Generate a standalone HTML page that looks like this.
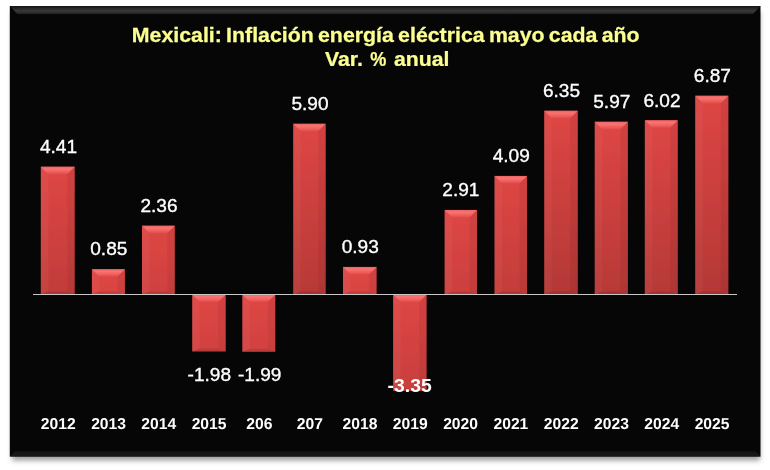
<!DOCTYPE html>
<html><head><meta charset="utf-8"><title>Mexicali: Inflación energía eléctrica</title>
<style>
html,body{margin:0;padding:0;background:#fff;}
body{width:770px;height:470px;overflow:hidden;position:relative;}
svg{position:absolute;left:0;top:0;display:block;}
text{font-family:"Liberation Sans",Arial,sans-serif;}
.t{font-weight:bold;font-size:19.3px;fill:#fcff90;text-anchor:middle;stroke:#fcff90;stroke-width:0.25px;}
.v{font-size:19px;fill:#fff;text-anchor:middle;stroke:#fff;stroke-width:0.35px;}
.vb{font-size:19px;fill:#fff;text-anchor:middle;font-weight:bold;}
.y{text-rendering:geometricPrecision;font-size:15.8px;fill:#fff;text-anchor:middle;font-weight:bold;}
</style></head><body>
<svg width="770" height="470" viewBox="0 0 770 470">
<defs>
<filter id="sh" x="-5%" y="-5%" width="110%" height="112%"><feGaussianBlur stdDeviation="2.5"/></filter>
<linearGradient id="tb" x1="0" y1="0" x2="0" y2="1"><stop offset="0" stop-color="#141414"/><stop offset="0.55" stop-color="#383838"/><stop offset="0.85" stop-color="#2a2a2a"/><stop offset="1" stop-color="#0c0c0c"/></linearGradient>
<linearGradient id="hl" x1="0" y1="0" x2="0" y2="1"><stop offset="0" stop-color="#ec6462"/><stop offset="0.3" stop-color="#f87472"/><stop offset="0.7" stop-color="#ef5e5c"/><stop offset="1" stop-color="#e04c49"/></linearGradient>
<filter id="soft" x="-10%" y="-10%" width="120%" height="120%"><feGaussianBlur stdDeviation="0.45"/></filter>

<linearGradient id="g0" x1="0" y1="0" x2="0" y2="1"><stop offset="0" stop-color="#de4644"/><stop offset="1" stop-color="#c13c3a"/></linearGradient>
<linearGradient id="g1" x1="0" y1="0" x2="0" y2="1"><stop offset="0" stop-color="#de4644"/><stop offset="1" stop-color="#d84442"/></linearGradient>
<linearGradient id="g2" x1="0" y1="0" x2="0" y2="1"><stop offset="0" stop-color="#de4644"/><stop offset="1" stop-color="#ce413f"/></linearGradient>
<linearGradient id="g3" x1="0" y1="0" x2="0" y2="1"><stop offset="0" stop-color="#de4644"/><stop offset="1" stop-color="#d14240"/></linearGradient>
<linearGradient id="g4" x1="0" y1="0" x2="0" y2="1"><stop offset="0" stop-color="#de4644"/><stop offset="1" stop-color="#d14240"/></linearGradient>
<linearGradient id="g5" x1="0" y1="0" x2="0" y2="1"><stop offset="0" stop-color="#de4644"/><stop offset="1" stop-color="#b73937"/></linearGradient>
<linearGradient id="g6" x1="0" y1="0" x2="0" y2="1"><stop offset="0" stop-color="#de4644"/><stop offset="1" stop-color="#d84442"/></linearGradient>
<linearGradient id="g7" x1="0" y1="0" x2="0" y2="1"><stop offset="0" stop-color="#de4644"/><stop offset="1" stop-color="#c83f3d"/></linearGradient>
<linearGradient id="g8" x1="0" y1="0" x2="0" y2="1"><stop offset="0" stop-color="#de4644"/><stop offset="1" stop-color="#cb403e"/></linearGradient>
<linearGradient id="g9" x1="0" y1="0" x2="0" y2="1"><stop offset="0" stop-color="#de4644"/><stop offset="1" stop-color="#c33d3b"/></linearGradient>
<linearGradient id="g10" x1="0" y1="0" x2="0" y2="1"><stop offset="0" stop-color="#de4644"/><stop offset="1" stop-color="#b43836"/></linearGradient>
<linearGradient id="g11" x1="0" y1="0" x2="0" y2="1"><stop offset="0" stop-color="#de4644"/><stop offset="1" stop-color="#b73937"/></linearGradient>
<linearGradient id="g12" x1="0" y1="0" x2="0" y2="1"><stop offset="0" stop-color="#de4644"/><stop offset="1" stop-color="#b63937"/></linearGradient>
<linearGradient id="g13" x1="0" y1="0" x2="0" y2="1"><stop offset="0" stop-color="#de4644"/><stop offset="1" stop-color="#b43836"/></linearGradient>
</defs>
<rect x="12" y="12" width="748" height="448.5" fill="#000" fill-opacity="0.38" filter="url(#sh)"/>
<rect x="9.8" y="6" width="750.7" height="450.5" fill="#060606"/>
<polygon points="9.8,6 760.5,6 752.5,14.5 17.8,14.5" fill="url(#tb)"/>
<polygon points="9.8,456.5 760.5,456.5 755.5,451.5 14.8,451.5" fill="#161616"/>
<g filter="url(#soft)"><rect x="40.8" y="166.7" width="33.9" height="127.8" fill="url(#g0)"/>
<polygon points="40.8,166.7 74.7,166.7 67.2,174.2 48.3,174.2" fill="url(#hl)"/>
<polygon points="40.8,166.7 48.3,174.2 48.3,291.5 40.8,294.5" fill="#fff" fill-opacity="0.04"/>
<polygon points="74.7,166.7 67.2,174.2 67.2,291.5 74.7,294.5" fill="#000" fill-opacity="0.05"/>
<polygon points="40.8,294.5 74.7,294.5 67.2,291.5 48.3,291.5" fill="#000" fill-opacity="0.10"/></g>
<g filter="url(#soft)"><rect x="91.9" y="269.2" width="33.0" height="25.3" fill="url(#g1)"/>
<polygon points="91.9,269.2 124.9,269.2 117.4,276.7 99.4,276.7" fill="url(#hl)"/>
<polygon points="91.9,269.2 99.4,276.7 99.4,291.5 91.9,294.5" fill="#fff" fill-opacity="0.04"/>
<polygon points="124.9,269.2 117.4,276.7 117.4,291.5 124.9,294.5" fill="#000" fill-opacity="0.05"/>
<polygon points="91.9,294.5 124.9,294.5 117.4,291.5 99.4,291.5" fill="#000" fill-opacity="0.10"/></g>
<g filter="url(#soft)"><rect x="142.0" y="225.7" width="32.8" height="68.8" fill="url(#g2)"/>
<polygon points="142.0,225.7 174.8,225.7 167.3,233.2 149.5,233.2" fill="url(#hl)"/>
<polygon points="142.0,225.7 149.5,233.2 149.5,291.5 142.0,294.5" fill="#fff" fill-opacity="0.04"/>
<polygon points="174.8,225.7 167.3,233.2 167.3,291.5 174.8,294.5" fill="#000" fill-opacity="0.05"/>
<polygon points="142.0,294.5 174.8,294.5 167.3,291.5 149.5,291.5" fill="#000" fill-opacity="0.10"/></g>
<g filter="url(#soft)"><rect x="192.2" y="294.5" width="33.5" height="57.0" fill="url(#g3)"/>
<polygon points="192.2,294.5 225.7,294.5 218.2,302.0 199.7,302.0" fill="url(#hl)"/>
<polygon points="192.2,294.5 199.7,302.0 199.7,348.5 192.2,351.5" fill="#fff" fill-opacity="0.04"/>
<polygon points="225.7,294.5 218.2,302.0 218.2,348.5 225.7,351.5" fill="#000" fill-opacity="0.05"/>
<polygon points="192.2,351.5 225.7,351.5 218.2,348.5 199.7,348.5" fill="#000" fill-opacity="0.10"/></g>
<g filter="url(#soft)"><rect x="242.3" y="294.5" width="33.0" height="57.3" fill="url(#g4)"/>
<polygon points="242.3,294.5 275.3,294.5 267.8,302.0 249.8,302.0" fill="url(#hl)"/>
<polygon points="242.3,294.5 249.8,302.0 249.8,348.8 242.3,351.8" fill="#fff" fill-opacity="0.04"/>
<polygon points="275.3,294.5 267.8,302.0 267.8,348.8 275.3,351.8" fill="#000" fill-opacity="0.05"/>
<polygon points="242.3,351.8 275.3,351.8 267.8,348.8 249.8,348.8" fill="#000" fill-opacity="0.10"/></g>
<g filter="url(#soft)"><rect x="293.2" y="123.8" width="32.5" height="170.7" fill="url(#g5)"/>
<polygon points="293.2,123.8 325.7,123.8 318.2,131.3 300.7,131.3" fill="url(#hl)"/>
<polygon points="293.2,123.8 300.7,131.3 300.7,291.5 293.2,294.5" fill="#fff" fill-opacity="0.04"/>
<polygon points="325.7,123.8 318.2,131.3 318.2,291.5 325.7,294.5" fill="#000" fill-opacity="0.05"/>
<polygon points="293.2,294.5 325.7,294.5 318.2,291.5 300.7,291.5" fill="#000" fill-opacity="0.10"/></g>
<g filter="url(#soft)"><rect x="343.0" y="266.9" width="33.6" height="27.6" fill="url(#g6)"/>
<polygon points="343.0,266.9 376.6,266.9 369.1,274.4 350.5,274.4" fill="url(#hl)"/>
<polygon points="343.0,266.9 350.5,274.4 350.5,291.5 343.0,294.5" fill="#fff" fill-opacity="0.04"/>
<polygon points="376.6,266.9 369.1,274.4 369.1,291.5 376.6,294.5" fill="#000" fill-opacity="0.05"/>
<polygon points="343.0,294.5 376.6,294.5 369.1,291.5 350.5,291.5" fill="#000" fill-opacity="0.10"/></g>
<g filter="url(#soft)"><rect x="393.1" y="294.5" width="33.5" height="96.5" fill="url(#g7)"/>
<polygon points="393.1,294.5 426.6,294.5 419.1,302.0 400.6,302.0" fill="url(#hl)"/>
<polygon points="393.1,294.5 400.6,302.0 400.6,388.0 393.1,391.0" fill="#fff" fill-opacity="0.04"/>
<polygon points="426.6,294.5 419.1,302.0 419.1,388.0 426.6,391.0" fill="#000" fill-opacity="0.05"/>
<polygon points="393.1,391.0 426.6,391.0 419.1,388.0 400.6,388.0" fill="#000" fill-opacity="0.10"/></g>
<g filter="url(#soft)"><rect x="444.6" y="209.9" width="32.4" height="84.6" fill="url(#g8)"/>
<polygon points="444.6,209.9 477.0,209.9 469.5,217.4 452.1,217.4" fill="url(#hl)"/>
<polygon points="444.6,209.9 452.1,217.4 452.1,291.5 444.6,294.5" fill="#fff" fill-opacity="0.04"/>
<polygon points="477.0,209.9 469.5,217.4 469.5,291.5 477.0,294.5" fill="#000" fill-opacity="0.05"/>
<polygon points="444.6,294.5 477.0,294.5 469.5,291.5 452.1,291.5" fill="#000" fill-opacity="0.10"/></g>
<g filter="url(#soft)"><rect x="494.5" y="175.9" width="32.5" height="118.6" fill="url(#g9)"/>
<polygon points="494.5,175.9 527.0,175.9 519.5,183.4 502.0,183.4" fill="url(#hl)"/>
<polygon points="494.5,175.9 502.0,183.4 502.0,291.5 494.5,294.5" fill="#fff" fill-opacity="0.04"/>
<polygon points="527.0,175.9 519.5,183.4 519.5,291.5 527.0,294.5" fill="#000" fill-opacity="0.05"/>
<polygon points="494.5,294.5 527.0,294.5 519.5,291.5 502.0,291.5" fill="#000" fill-opacity="0.10"/></g>
<g filter="url(#soft)"><rect x="544.2" y="110.8" width="33.6" height="183.7" fill="url(#g10)"/>
<polygon points="544.2,110.8 577.8,110.8 570.3,118.3 551.7,118.3" fill="url(#hl)"/>
<polygon points="544.2,110.8 551.7,118.3 551.7,291.5 544.2,294.5" fill="#fff" fill-opacity="0.04"/>
<polygon points="577.8,110.8 570.3,118.3 570.3,291.5 577.8,294.5" fill="#000" fill-opacity="0.05"/>
<polygon points="544.2,294.5 577.8,294.5 570.3,291.5 551.7,291.5" fill="#000" fill-opacity="0.10"/></g>
<g filter="url(#soft)"><rect x="594.7" y="121.8" width="33.2" height="172.7" fill="url(#g11)"/>
<polygon points="594.7,121.8 627.9,121.8 620.4,129.3 602.2,129.3" fill="url(#hl)"/>
<polygon points="594.7,121.8 602.2,129.3 602.2,291.5 594.7,294.5" fill="#fff" fill-opacity="0.04"/>
<polygon points="627.9,121.8 620.4,129.3 620.4,291.5 627.9,294.5" fill="#000" fill-opacity="0.05"/>
<polygon points="594.7,294.5 627.9,294.5 620.4,291.5 602.2,291.5" fill="#000" fill-opacity="0.10"/></g>
<g filter="url(#soft)"><rect x="644.8" y="120.3" width="33.0" height="174.2" fill="url(#g12)"/>
<polygon points="644.8,120.3 677.8,120.3 670.3,127.8 652.3,127.8" fill="url(#hl)"/>
<polygon points="644.8,120.3 652.3,127.8 652.3,291.5 644.8,294.5" fill="#fff" fill-opacity="0.04"/>
<polygon points="677.8,120.3 670.3,127.8 670.3,291.5 677.8,294.5" fill="#000" fill-opacity="0.05"/>
<polygon points="644.8,294.5 677.8,294.5 670.3,291.5 652.3,291.5" fill="#000" fill-opacity="0.10"/></g>
<g filter="url(#soft)"><rect x="695.2" y="95.8" width="33.2" height="198.7" fill="url(#g13)"/>
<polygon points="695.2,95.8 728.4,95.8 720.9,103.3 702.7,103.3" fill="url(#hl)"/>
<polygon points="695.2,95.8 702.7,103.3 702.7,291.5 695.2,294.5" fill="#fff" fill-opacity="0.04"/>
<polygon points="728.4,95.8 720.9,103.3 720.9,291.5 728.4,294.5" fill="#000" fill-opacity="0.05"/>
<polygon points="695.2,294.5 728.4,294.5 720.9,291.5 702.7,291.5" fill="#000" fill-opacity="0.10"/></g>
<rect x="33" y="294.0" width="704" height="1" fill="#c8c8c8"/>
<text class="t" transform="translate(385.7,41.5) scale(1.105,1)" word-spacing="-1.5">Mexicali: Inflación energía eléctrica mayo cada año</text>
<text class="t" transform="translate(343.9,66.1) scale(1.1,1)">Var.</text>
<text class="t" transform="translate(378.2,66.1) scale(0.94,1)">%</text>
<text class="t" transform="translate(421.7,66.1) scale(1.1,1)">anual</text>
<text class="v" transform="translate(58.5,153.0) scale(1.005,1)">4.41</text>
<text class="y" transform="translate(58.2,428.7) scale(0.993,1)">2012</text>
<text class="v" transform="translate(108.8,255.0) scale(1.005,1)">0.85</text>
<text class="y" transform="translate(108.6,428.7) scale(0.993,1)">2013</text>
<text class="v" transform="translate(159.0,212.0) scale(1.005,1)">2.36</text>
<text class="y" transform="translate(158.8,428.7) scale(0.993,1)">2014</text>
<text class="v" transform="translate(209.3,381.3) scale(1.005,1)">-1.98</text>
<text class="y" transform="translate(209.1,428.7) scale(0.993,1)">2015</text>
<text class="v" transform="translate(259.7,381.3) scale(1.005,1)">-1.99</text>
<text class="y" transform="translate(259.4,428.7) scale(0.993,1)">206</text>
<text class="v" transform="translate(310.0,110.0) scale(1.005,1)">5.90</text>
<text class="y" transform="translate(309.8,428.7) scale(0.993,1)">207</text>
<text class="v" transform="translate(360.2,253.0) scale(1.005,1)">0.93</text>
<text class="y" transform="translate(360.0,428.7) scale(0.993,1)">2018</text>
<text class="vb" transform="translate(409.6,392.2) scale(1.02,1)">-3.35</text>
<text class="y" transform="translate(410.3,428.7) scale(0.993,1)">2019</text>
<text class="v" transform="translate(460.9,196.0) scale(1.005,1)">2.91</text>
<text class="y" transform="translate(460.6,428.7) scale(0.993,1)">2020</text>
<text class="v" transform="translate(511.2,162.0) scale(1.005,1)">4.09</text>
<text class="y" transform="translate(510.9,428.7) scale(0.993,1)">2021</text>
<text class="v" transform="translate(561.5,97.0) scale(1.005,1)">6.35</text>
<text class="y" transform="translate(561.2,428.7) scale(0.993,1)">2022</text>
<text class="v" transform="translate(611.8,108.0) scale(1.005,1)">5.97</text>
<text class="y" transform="translate(611.5,428.7) scale(0.993,1)">2023</text>
<text class="v" transform="translate(662.0,106.5) scale(1.005,1)">6.02</text>
<text class="y" transform="translate(661.8,428.7) scale(0.993,1)">2024</text>
<text class="v" transform="translate(712.4,82.0) scale(1.005,1)">6.87</text>
<text class="y" transform="translate(712.1,428.7) scale(0.993,1)">2025</text>
</svg></body></html>
